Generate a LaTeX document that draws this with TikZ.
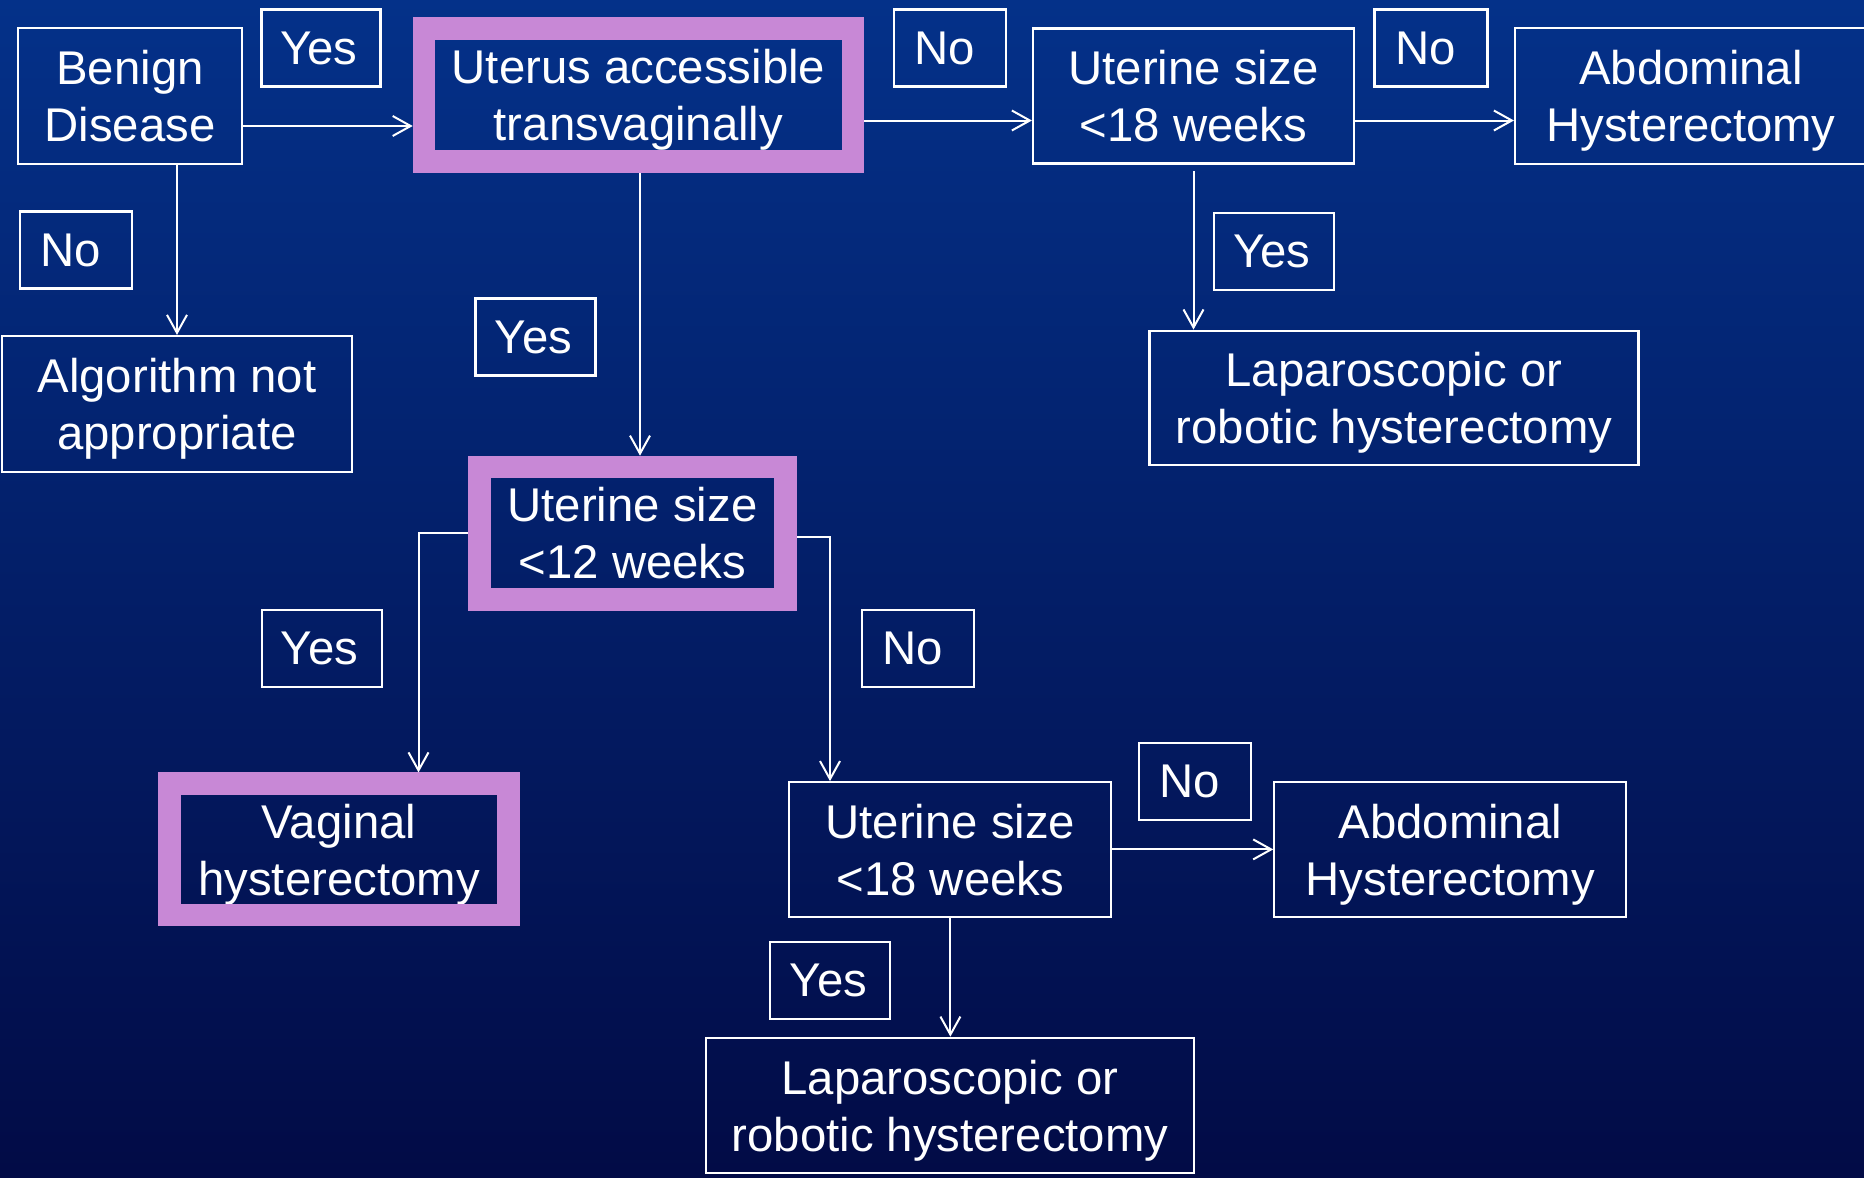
\documentclass[tikz,border=0pt]{standalone}
\usepackage{fontspec}
\setmainfont{Liberation Sans}
\usetikzlibrary{arrows.meta}
\definecolor{bgtop}{RGB}{4,49,137}
\definecolor{bgbot}{RGB}{2,11,70}
\definecolor{ringpurple}{RGB}{200,136,214}
\def\p{0.75pt}
\tikzset{
  box/.style={draw=white, line width=1.6pt, text=white, align=center, inner sep=0pt,
    text depth=0pt, font=\fontsize{35.5}{42.75}\selectfont},
  hbox/.style={draw=none, text=white, align=center, inner sep=0pt,
    text depth=0pt, font=\fontsize{35.5}{42.75}\selectfont},
  lbl/.style={box, minimum width=#1*\p, minimum height=77*\p},
  ring/.style={draw=ringpurple, line width=22.5*\p, line join=miter},
  arr/.style={draw=white, line width=1.5pt, -{Straight Barb[length=13.5pt, width=15pt, line width=1.5pt]}}
}
\newcommand{\noword}{No\hspace*{8pt}}
\newcommand{\yesword}{Yes\hspace*{3pt}}
\begin{document}
\begin{tikzpicture}[x=0.75pt, y=-0.75pt]
\useasboundingbox (0,0) rectangle (1864,1178);
\shade[top color=bgtop, bottom color=bgbot] (0,0) rectangle (1864,1178);

% helper coordinates
\coordinate (cy126) at (0,126);
\coordinate (cy120) at (0,120.5);
\coordinate (cx640) at (640,0);
\coordinate (k1) at (418.5,0);
\coordinate (k2) at (830,0);
\coordinate (cy536) at (0,536.5);

% plain boxes
\node[box, minimum width=224*\p, minimum height=136*\p] (benign) at (130,96) {Benign\\Disease};
\node[lbl=119] (yes1) at (321,48) {\yesword};
\node[lbl=112] (no1) at (950,48) {\noword};
\node[box, minimum width=321*\p, minimum height=135*\p] (u18a) at (1193.5,96) {Uterine size\\<18 weeks};
\node[lbl=113] (no2) at (1431,48) {\noword};
\node[box, minimum width=352*\p, minimum height=136*\p] (abda) at (1691,96) {Abdominal\\Hysterectomy};
\node[lbl=112] (no3) at (76,250) {\noword};
\node[box, minimum width=350*\p, minimum height=136*\p] (alg) at (177,404) {Algorithm not\\appropriate};
\node[lbl=120] (yes2) at (535.5,337) {\yesword};
\node[lbl=120] (yes3) at (1274,251.4) {\yesword};
\node[box, minimum width=489*\p, minimum height=134*\p] (lapa) at (1394,397.6) {Laparoscopic or\\robotic hysterectomy};
\node[lbl=120] (yes4) at (321.6,648.5) {\yesword};
\node[lbl=112] (no4) at (917.7,648.5) {\noword};
\node[box, minimum width=322*\p, minimum height=134.4*\p] (u18b) at (950.4,849.4) {Uterine size\\<18 weeks};
\node[lbl=112] (no5) at (1194.7,781.6) {\noword};
\node[box, minimum width=352*\p, minimum height=134.4*\p] (abdb) at (1450.3,849.4) {Abdominal\\Hysterectomy};
\node[lbl=120] (yes5) at (830.4,980.2) {\yesword};
\node[box, minimum width=487.4*\p, minimum height=135.6*\p] (lapb) at (950,1105.5) {Laparoscopic or\\robotic hysterectomy};

% highlighted boxes
\node[hbox, minimum width=451*\p, minimum height=155*\p] (uterus) at (638.5,95) {Uterus accessible\\transvaginally};
\node[hbox, minimum width=328.4*\p, minimum height=154.7*\p] (u12) at (632.5,533.3) {Uterine size\\<12 weeks};
\node[hbox, minimum width=361.4*\p, minimum height=153.4*\p] (vag) at (339,849.4) {Vaginal\\hysterectomy};
\foreach \n in {uterus,u12,vag}{
  \draw[ring] ([shift={(11.25,11.25)}]\n.north west) rectangle ([shift={(-11.25,-11.25)}]\n.south east);
}

% connectors
\draw[arr] (benign.east |- cy126) -- (uterus.west |- cy126);
\draw[arr] (alg.north |- benign.south) -- (alg.north);
\draw[arr] (uterus.east |- cy120) -- (u18a.west |- cy120);
\draw[arr] (u18a.east |- cy120) -- (abda.west |- cy120);
\draw[arr] ([yshift=-5pt]u18a.south) -- (u18a.south |- lapa.north);
\draw[arr] (uterus.south -| cx640) -- (u12.north -| cx640);
\draw[arr] (u12.west) -| (k1 |- vag.north);
\draw[arr] (u12.east |- cy536) -| (k2 |- u18b.north);
\draw[arr] (u18b.east) -- (abdb.west);
\draw[arr] (u18b.south) -- (u18b.south |- lapb.north);
\end{tikzpicture}
\end{document}
